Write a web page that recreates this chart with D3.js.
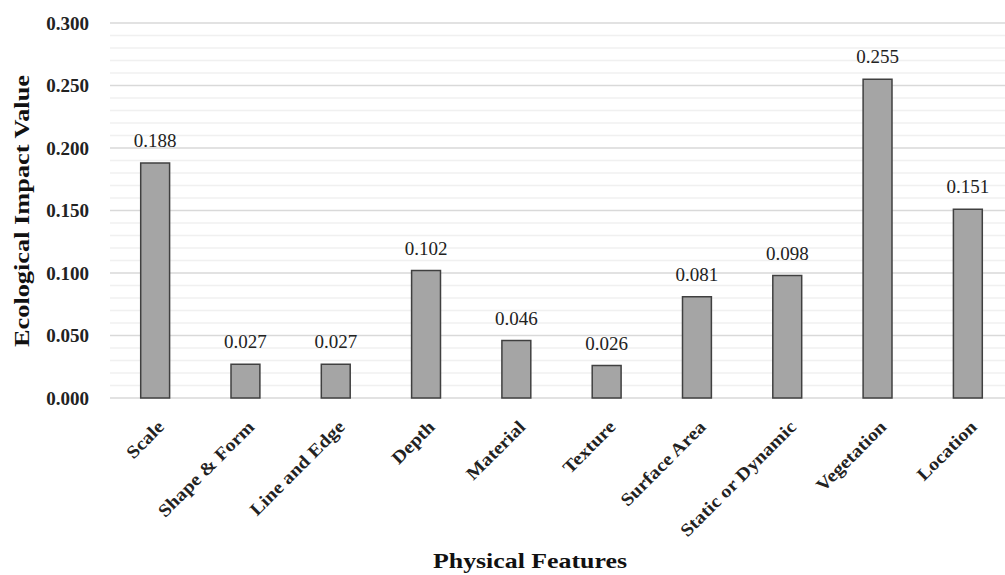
<!DOCTYPE html>
<html><head><meta charset="utf-8">
<script src="https://cdn.jsdelivr.net/npm/d3@7"></script>
<style>body{margin:0;background:#fff}svg{display:block}text{font-family:"Liberation Serif","DejaVu Serif",serif}</style>
</head><body><svg id="c" width="1005" height="575"></svg>
<script>
const categories = ["Scale","Shape & Form","Line and Edge","Depth","Material","Texture","Surface Area","Static or Dynamic","Vegetation","Location"];
const values = [0.188,0.027,0.027,0.102,0.046,0.026,0.081,0.098,0.255,0.151];
const yTicks = [0,0.05,0.1,0.15,0.2,0.25,0.3];

(function(){
const svg = d3.select("#c");
const pL = 110, pR = 1013, pT = 23, pB = 398;
const x = d3.scaleBand().domain(categories).range([pL, pR]).paddingInner(0.68).paddingOuter(0.34);
const y = d3.scaleLinear().domain([0,0.3]).range([pB, pT]);

const minor = d3.range(0, 0.301, 0.01).map(v => +v.toFixed(2));
svg.append("g").selectAll("line").data(minor).join("line")
  .attr("x1", pL).attr("x2", pR).attr("y1", d=>y(d)).attr("y2", d=>y(d))
  .attr("stroke", d => (Math.round(d*100) % 5 === 0) ? "#d9d9d9" : "#f0f0f0")
  .attr("stroke-width", 1.5);

svg.append("g").selectAll("rect").data(values).join("rect")
  .attr("x", (d,i)=>x(categories[i])).attr("width", x.bandwidth())
  .attr("y", d=>y(d)).attr("height", d=>y(0)-y(d))
  .attr("fill", "#a5a5a5").attr("stroke", "#404040").attr("stroke-width", 1.5);

svg.append("g").selectAll("text").data(values).join("text")
  .attr("x", (d,i)=>x(categories[i]) + x.bandwidth()/2).attr("y", d=>y(d)-16)
  .attr("text-anchor","middle").attr("font-size", 19).attr("fill","#222")
  .text(d=>d.toFixed(3));

const ya = d3.axisLeft(y).tickValues(yTicks).tickFormat(d3.format(".3f")).tickSize(0).tickPadding(21);
svg.append("g").attr("transform", `translate(${pL},0)`).call(ya)
  .call(g=>g.select(".domain").remove())
  .selectAll("text").attr("font-size", 19).attr("font-weight","bold").attr("fill","#222")
  .style("font-family",'"Liberation Serif",serif');

const xa = d3.axisBottom(x).tickSize(0).tickPadding(0);
svg.append("g").attr("transform", `translate(0,${pB})`).call(xa)
  .call(g=>g.select(".domain").remove())
  .selectAll("text").attr("font-size", 18).attr("font-weight","bold").attr("fill","#222")
  .style("font-family",'"Liberation Serif",serif')
  .attr("text-anchor","end").attr("dy", null)
  .attr("transform","translate(10,30) rotate(-45) scale(1.12,1)");

svg.append("text").attr("x", 530).attr("y", 568).attr("text-anchor","middle")
  .attr("font-size", 21).attr("font-weight","bold").attr("fill","#111")
  .attr("textLength", 194).attr("lengthAdjust","spacingAndGlyphs").text("Physical Features");
svg.append("text").attr("transform","translate(29,211) rotate(-90)").attr("text-anchor","middle")
  .attr("font-size", 21).attr("font-weight","bold").attr("fill","#111")
  .attr("textLength", 272).attr("lengthAdjust","spacingAndGlyphs").text("Ecological Impact Value");
})();
</script></body></html>
